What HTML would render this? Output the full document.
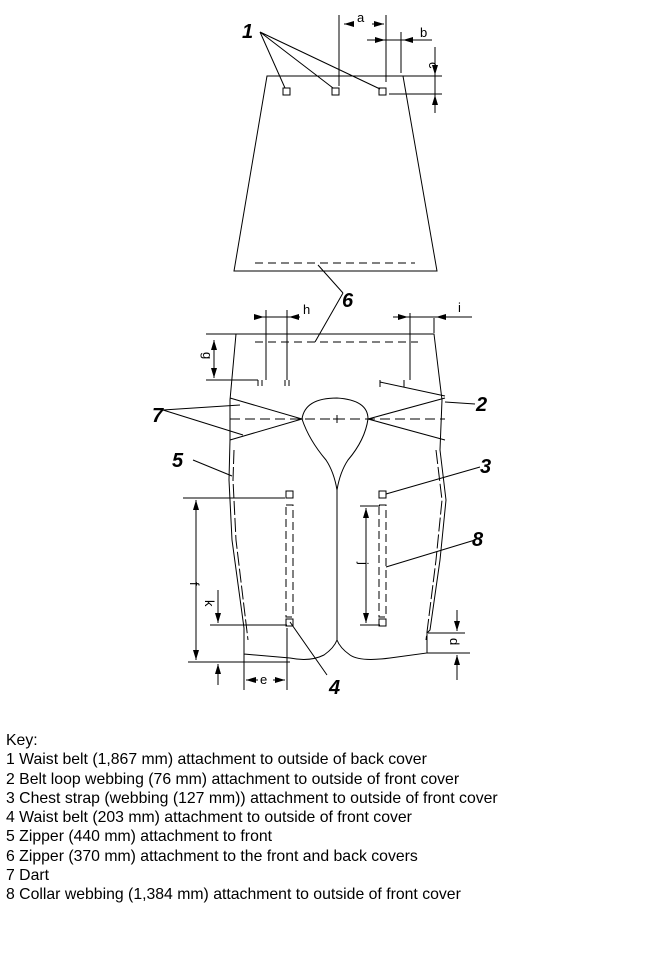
<!DOCTYPE html>
<html><head><style>
body{margin:0;background:#fff;width:656px;height:956px;overflow:hidden;font-family:"Liberation Sans",sans-serif}
svg{position:absolute;left:0;top:0}
.k{position:absolute;left:6px;top:731px;font-size:15.8px;line-height:19.3px;color:#000;white-space:nowrap}
</style></head><body>
<svg width="656" height="720" viewBox="0 0 656 720" fill="none" stroke="#000" stroke-width="1">
<defs><marker id="a" viewBox="0 0 10 6" refX="10" refY="3" markerWidth="10" markerHeight="6" orient="auto-start-reverse"><path d="M0,0L10,3L0,6z" fill="#000" stroke="none"/></marker></defs>
<path d="M267,76H403L437,271H234Z"/>
<path d="M255,263H415" stroke-dasharray="8,5"/>
<rect x="283" y="88" width="7" height="7"/><rect x="332" y="88" width="7" height="7"/><rect x="379" y="88" width="7" height="7"/>
<path d="M260,32L285,88M260,32L333,88M260,32L380,89"/>
<path d="M339,15V86M386,15V82M401,32V73M367,40H432M389,94H442M403,76H442M435,47V113"/>
<path d="M344,24H354" marker-start="url(#a)"/><path d="M372,24H384" marker-end="url(#a)"/>
<path d="M372,40H385" marker-end="url(#a)"/><path d="M403,40H416" marker-start="url(#a)"/>
<path d="M435,62V75" marker-end="url(#a)"/><path d="M435,95V108" marker-start="url(#a)"/>
<path d="M236,334H434L442,400L440,450L446,500L440,560L430,630L427,633V653L390,658Q360,662 350,655Q340,648 337,640Q334,648 324,655Q310,662 290,658L244,654V628L232,540L229,480L230,440L230,400Z"/>
<path d="M234,450L233,480L236,540L248,640" stroke-dasharray="14,3"/>
<path d="M436,450L442,500L436,560L426,640" stroke-dasharray="14,3"/>
<path d="M255,342H418" stroke-dasharray="8,5"/>
<path d="M230,419H445" stroke-dasharray="10,5"/>
<path d="M230,398L302,419L230,440M445,398L368,419L445,440"/>
<path d="M302,419Q305,398 337,398Q368,400 368,419Q365,440 348,460Q340,472 337,490Q334,472 326,460Q309,440 302,419Z"/>
<path d="M337,490V640M333,419H341M337,415V423"/>
<path d="M343,293L315,342M343,293L318,265"/>
<path d="M266,310V380M287,310V380M410,313V380M434,318V333M256,317H300M393,317H472M206,334H236M206,380H258"/>
<path d="M258,380V386M262,380V386M285,380V386M289,380V386M380,380V387M404,380V387M380,382L445,396"/>
<path d="M256,317H264" marker-end="url(#a)"/><path d="M289,317H298" marker-start="url(#a)"/>
<path d="M400,317H408" marker-end="url(#a)"/><path d="M436,317H446" marker-start="url(#a)"/>
<path d="M214,340V360" marker-start="url(#a)"/><path d="M214,360V378" marker-end="url(#a)"/>
<path d="M163,410L240,405M163,410L243,435M445,402L475,404M193,460L232,476M480,467L386,494M475,540L386,567M290,622L327,675"/>
<rect x="286" y="491" width="7" height="7"/><rect x="286" y="619" width="7" height="7"/>
<rect x="379" y="491" width="7" height="7"/><rect x="379" y="619" width="7" height="7"/>
<rect x="286" y="505" width="7" height="112" stroke-dasharray="8,4"/>
<rect x="379" y="505" width="7" height="112" stroke-dasharray="8,4"/>
<path d="M183,498H285M188,662H290M210,625H287M244,628V690M287,628V690M360,506H380M360,625H380M428,633H465M427,653H470"/>
<path d="M196,500V590" marker-start="url(#a)"/><path d="M196,590V660" marker-end="url(#a)"/>
<path d="M218,590V623" marker-end="url(#a)"/><path d="M218,664V685" marker-start="url(#a)"/>
<path d="M246,680H258" marker-start="url(#a)"/><path d="M273,680H285" marker-end="url(#a)"/>
<path d="M366,508V565" marker-start="url(#a)"/><path d="M366,565V623" marker-end="url(#a)"/>
<path d="M457,610V631" marker-end="url(#a)"/><path d="M457,655V680" marker-start="url(#a)"/>
<g stroke="none" fill="#000" font-family="Liberation Sans,sans-serif">
<g font-size="20" font-weight="bold" font-style="italic">
<text x="242" y="38">1</text><text x="342" y="307">6</text><text x="152" y="422">7</text><text x="476" y="411">2</text><text x="172" y="467">5</text><text x="480" y="473">3</text><text x="472" y="546">8</text><text x="329" y="694">4</text></g>
<g font-size="13"><text x="357" y="22">a</text><text x="420" y="37">b</text><text x="458" y="312">i</text><text x="303" y="314">h</text>
<text transform="translate(429,62) rotate(90)">c</text><text transform="translate(203,352) rotate(90)">g</text>
<text transform="translate(190,582) rotate(90)">f</text><text transform="translate(205,600) rotate(90)">k</text>
<text transform="translate(359,562) rotate(90)">j</text><text transform="translate(450,638) rotate(90)">d</text><text x="260" y="684">e</text></g>
</g>
</svg>
<div class="k">Key:<br>1 Waist belt (1,867 mm) attachment to outside of back cover<br>2 Belt loop webbing (76 mm) attachment to outside of front cover<br>3 Chest strap (webbing (127 mm)) attachment to outside of front cover<br>4 Waist belt (203 mm) attachment to outside of front cover<br>5 Zipper (440 mm) attachment to front<br>6 Zipper (370 mm) attachment to the front and back covers<br>7 Dart<br>8 Collar webbing (1,384 mm) attachment to outside of front cover</div>
</body></html>
